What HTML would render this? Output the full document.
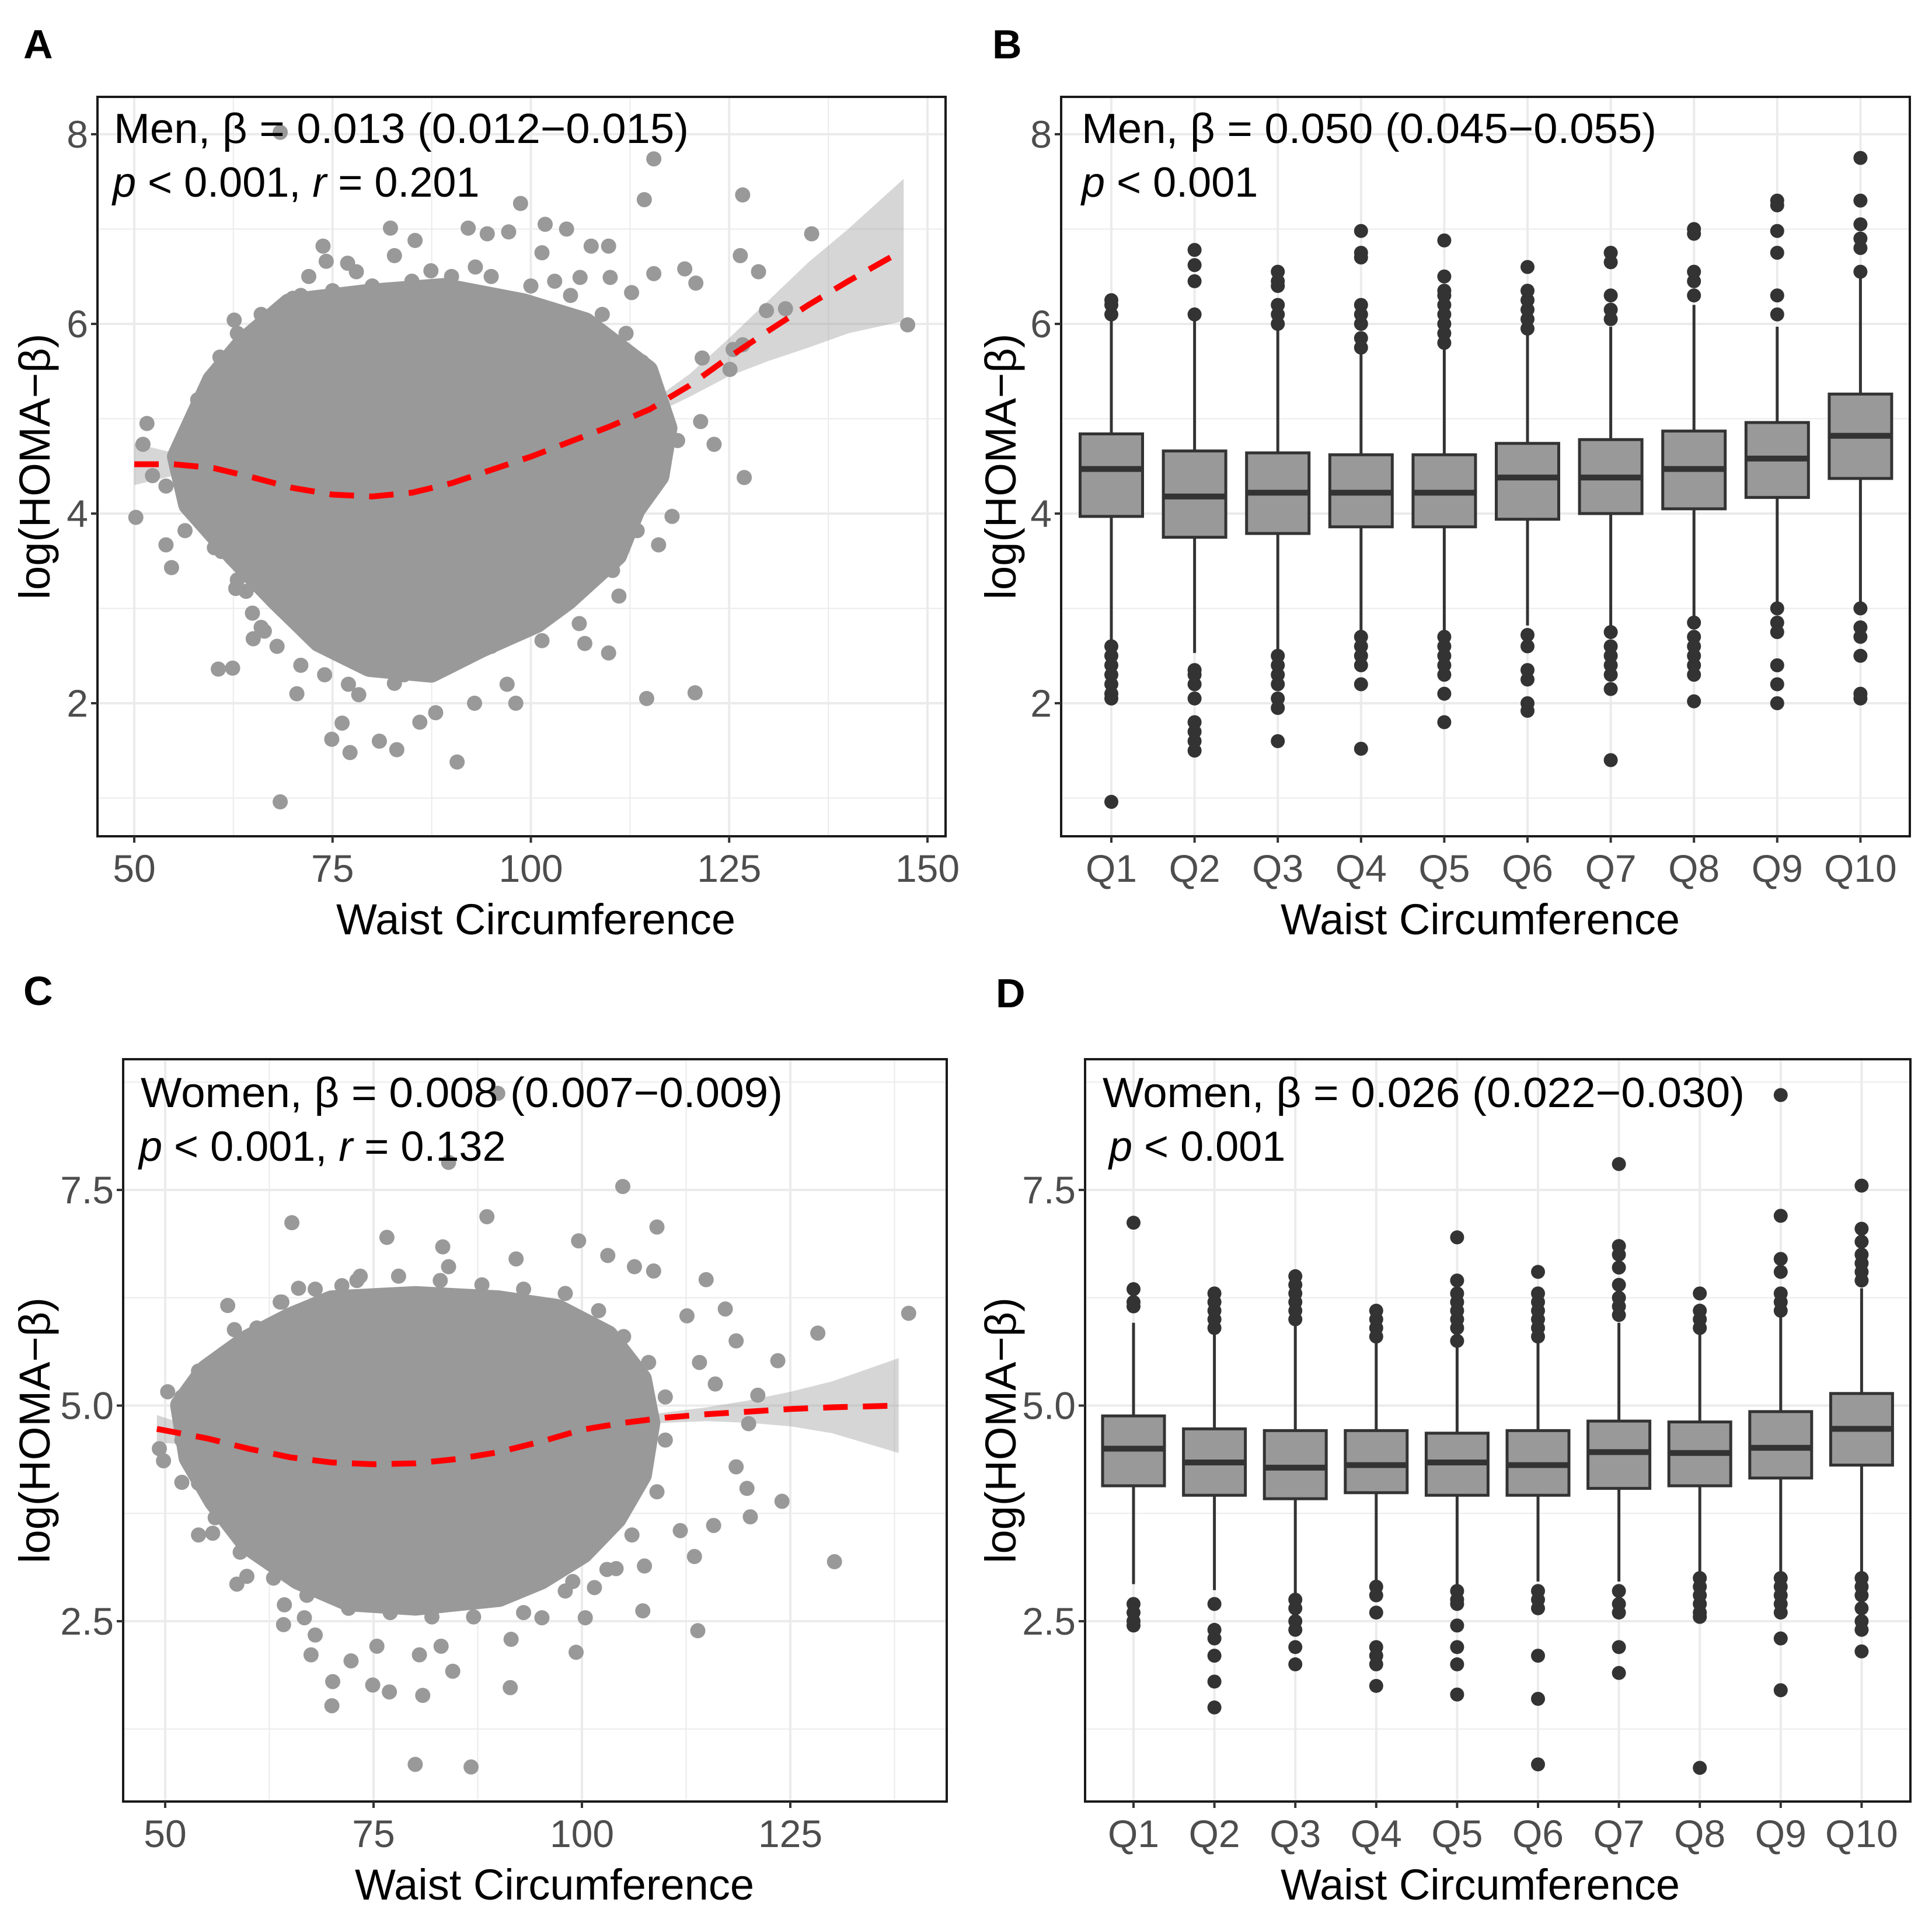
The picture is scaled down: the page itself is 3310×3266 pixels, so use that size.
<!DOCTYPE html>
<html><head><meta charset="utf-8"><style>
html,body{margin:0;padding:0;background:#fff}
svg{display:block}
text{font-family:"Liberation Sans",Arial,sans-serif}
</style></head><body>
<svg id="fig" width="3310" height="3266" viewBox="0 0 3310 3266" xmlns="http://www.w3.org/2000/svg"></svg>
<script>
// ---------- Panel A data (men scatter) ----------
const aCoreX=[55.6,60,64,69.6,79.7,89,99,106.8,114.6,117,116,113,110.7,104.5,100.6,93.6,87.4,79.7,73.4,68,62.6,57];
const aCoreY=[4.6,5.4,5.8,6.2,6.3,6.36,6.2,6.0,5.5,4.9,4.4,4.05,3.57,3.1,2.86,2.6,2.34,2.4,2.66,3.1,3.57,4.1];
const aPtX=[68.4,90.7,83.1,80.9,77.2,74.9,76.2,86.0,88.0,60.6,62.4,70.5,92.9,98.1,97.0,114.6,120.7,109.8,106.8,106.1,111.1,110.3,116.1,117.8,113.4,126.9,123.1,121.4,118.5,121.6,125.5,125.1,126.7,128.7,126.4,126.7,135.4,147.5,129.7,132.1,115.5,114.3,120.8,119.4,115.5,112.7,110,109.8,107.6,106.2,104.5,101.8,101.4,98.7,97.2,94.5,92.1,87.4,82.3,85.4,82.8,73.8,74.2,76.9,68.4,62.6,66.5,70,68.4,60.8,60.1,60.6,54,54.7,56.4,50.2,51.6,51.1,52.3,54,64.9,65,66.4,62.8,64.1,101.4,100,103,82.8,78.3,
58,57,59,61,63,66,68,71,74,77,84,90,95,99,103,107,110,112,113,115,114,112,109,105,100,95,90,85,80,75,71,66,63,61,72,78,93,103];
const aPtY=[0.96,1.38,1.51,1.6,1.48,1.62,1.79,1.8,1.9,2.36,2.37,2.1,2.0,2.0,2.2,2.05,2.11,2.53,2.63,2.84,3.13,3.4,3.67,3.97,3.82,4.38,4.73,4.97,4.77,5.64,5.73,5.52,5.78,6.55,6.72,7.36,6.95,5.99,6.14,6.16,7.74,7.31,6.43,6.58,6.53,6.33,6.49,6.82,6.82,6.49,7.0,7.05,6.75,7.27,6.97,6.95,7.01,6.56,7.01,6.88,6.72,6.82,6.66,6.64,8.02,6.04,6.05,6.27,5.88,5.65,3.64,3.8,3.67,3.43,3.82,3.96,4.95,4.73,4.4,4.29,2.95,2.68,2.76,3.21,3.18,2.66,2.92,3.08,2.21,2.09,
5.2,4.9,3.9,3.6,3.3,2.8,2.6,2.4,2.3,2.2,2.3,2.4,2.6,2.8,3.0,3.3,3.7,4.2,4.7,5.2,5.6,5.9,6.1,6.3,6.4,6.5,6.5,6.45,6.4,6.35,6.3,6.1,5.9,5.6,6.5,6.55,6.6,6.45];
const aFitX=[50,55,60,65,70,75,80,85,90,95,100,105,110,115,120,125,130,135,140,147];
const aFitY=[4.52,4.52,4.48,4.38,4.27,4.2,4.18,4.22,4.32,4.46,4.6,4.76,4.92,5.1,5.35,5.65,5.93,6.2,6.45,6.78];
const aFitSE=[0.22,0.12,0.06,0.04,0.03,0.03,0.03,0.03,0.03,0.03,0.03,0.04,0.05,0.07,0.12,0.2,0.32,0.45,0.55,0.75];
// ---------- Panel C data (women scatter) ----------
const cCoreX=[55,60,65,70,80,90,97,103,107,108,107,104,100,95,90,80,72,66,60,56,53,52];
const cCoreY=[5.4,5.75,6.0,6.2,6.25,6.2,6.1,5.8,5.3,4.8,4.2,3.7,3.3,3.0,2.8,2.7,2.75,3.0,3.4,3.9,4.4,5.0];
const cPtX=[70,70.1,74.9,76.9,80.9,80,86.7,91.4,99.3,84.5,80.5,83.1,75.4,72.3,67.5,64.2,68,113.9,107.3,130.3,124,120.2,115.8,111.8,113.5,104.1,101.5,98.9,107.5,119.8,118.5,120,121.1,123.5,128.3,139.2,117.2,114.9,112.6,118.5,116,114.1,109,104.9,108.6,103.1,99.6,106.3,92.1,88.6,84,83.3,76.6,65.2,89.9,84,73.4,71.2,66,63.8,57.5,58.3,50.3,49.3,49.8,52,54,55.7,58.6,59.8,64.3,66.7,91.5,100.4,95.2,
57,61,64,68,73,78,83,88,93,98,102,105,108,110,110,109,106,103,98,93,87,82,77,72,67,63,59,56,54,52,52,54];
const cPtY=[1.52,1.8,1.76,1.68,1.64,0.84,0.81,1.73,2.14,1.92,2.11,2.21,2.21,2.04,2.11,2.46,2.34,2.39,2.62,3.19,3.89,3.71,3.61,3.55,3.25,3.11,2.89,2.96,3.14,4.04,4.29,4.79,5.12,5.52,5.84,6.07,6.12,6.46,6.04,5.75,5.25,5.5,7.07,7.54,6.56,6.74,6.91,6.61,6.7,7.19,6.61,6.84,6.95,7.12,8.62,7.82,6.5,6.39,6.36,6.2,6.16,5.88,5.16,4.5,4.36,4.11,3.5,3.52,2.93,3.02,2.69,2.54,2.29,2.54,2.54,
5.6,5.9,6.2,6.35,6.45,6.5,6.45,6.4,6.35,6.3,6.1,5.8,5.5,5.1,4.6,4.0,3.5,3.1,2.85,2.6,2.55,2.55,2.6,2.65,2.8,3.0,3.3,3.7,4.1,4.6,5.1,5.4];
const cFitX=[49,55,60,65,70,75,80,85,90,95,100,105,110,115,120,125,130,138];
const cFitY=[4.73,4.62,4.5,4.4,4.34,4.32,4.33,4.38,4.46,4.58,4.72,4.8,4.86,4.9,4.93,4.96,4.98,5.0];
const cFitSE=[0.16,0.08,0.05,0.04,0.03,0.03,0.03,0.03,0.03,0.03,0.04,0.05,0.06,0.08,0.13,0.2,0.3,0.55];
// ---------- Panel B data (men boxplots) ----------
const bCats=["Q1","Q2","Q3","Q4","Q5","Q6","Q7","Q8","Q9","Q10"];
const bLow=[2.65,2.53,2.56,2.73,2.72,2.82,2.8,2.88,3.05,3.05];
const bQ1=[3.97,3.75,3.79,3.86,3.86,3.94,4.0,4.05,4.17,4.37];
const bMed=[4.47,4.18,4.22,4.22,4.22,4.38,4.38,4.47,4.58,4.82];
const bQ3=[4.84,4.66,4.64,4.62,4.62,4.74,4.78,4.87,4.96,5.26];
const bHigh=[6.05,6.04,5.97,5.71,5.75,5.9,5.97,6.2,5.97,6.5];
const bOut=[[6.1,6.2,6.25,2.6,2.5,2.4,2.3,2.2,2.1,2.05,0.96],[6.1,6.45,6.62,6.78,2.35,2.3,2.2,2.05,1.8,1.7,1.6,1.5],[6.0,6.1,6.2,6.4,6.45,6.55,2.5,2.4,2.3,2.2,2.05,1.95,1.6],[5.75,5.85,6.0,6.1,6.2,6.7,6.75,6.98,2.7,2.6,2.5,2.4,2.2,1.52],[5.8,5.9,6.0,6.1,6.2,6.3,6.35,6.5,6.88,2.7,2.6,2.5,2.4,2.3,2.1,1.8],[5.95,6.05,6.15,6.25,6.35,6.6,2.72,2.6,2.35,2.25,2.0,1.92],[6.05,6.15,6.3,6.65,6.75,2.75,2.6,2.5,2.4,2.3,2.15,1.4],[6.3,6.45,6.55,6.95,7.0,2.85,2.7,2.6,2.5,2.4,2.3,2.02],[6.1,6.3,6.75,6.98,7.25,7.3,3.0,2.85,2.75,2.4,2.2,2.0],[6.55,6.8,6.9,7.05,7.3,7.75,3.0,2.8,2.7,2.5,2.1,2.05]];
// ---------- Panel D data (women boxplots) ----------
const dCats=["Q1","Q2","Q3","Q4","Q5","Q6","Q7","Q8","Q9","Q10"];
const dLow=[2.93,2.86,2.82,2.93,2.93,2.96,2.96,3.07,3.07,3.07];
const dQ1=[4.07,3.96,3.92,3.99,3.96,3.96,4.04,4.07,4.16,4.31];
const dMed=[4.5,4.34,4.28,4.31,4.34,4.31,4.46,4.45,4.51,4.73];
const dQ3=[4.88,4.73,4.71,4.71,4.68,4.71,4.82,4.81,4.93,5.14];
const dHigh=[5.96,5.86,5.93,5.75,5.68,5.75,5.96,5.86,6.04,6.36];
const dOut=[[6.15,6.2,6.35,7.12,2.7,2.6,2.5,2.45],[5.9,6.0,6.1,6.2,6.3,2.7,2.4,2.3,2.1,1.8,1.5],[6.0,6.1,6.2,6.3,6.4,6.5,2.75,2.65,2.5,2.4,2.2,2.0],[5.8,5.9,6.0,6.1,2.9,2.8,2.6,2.2,2.1,2.0,1.75],[5.75,5.9,6.0,6.1,6.2,6.3,6.45,6.95,2.85,2.75,2.7,2.45,2.2,2.0,1.65],[5.8,5.9,6.0,6.1,6.2,6.3,6.55,2.85,2.75,2.65,2.1,1.6,0.84],[6.05,6.15,6.25,6.4,6.6,6.75,6.85,7.8,2.85,2.7,2.6,2.2,1.9],[5.9,6.0,6.1,6.3,3.0,2.9,2.8,2.7,2.6,2.55,0.8],[6.1,6.2,6.3,6.55,6.7,7.2,8.6,3.0,2.9,2.8,2.7,2.6,2.3,1.7],[6.45,6.55,6.65,6.75,6.9,7.05,7.55,3.0,2.9,2.8,2.65,2.5,2.4,2.15]];
// tick labels
const aXTicks=[50,75,100,125,150];const aYTicks=[2,4,6,8];
const cXTicks=[50,75,100,125];const cYTicks=["2.5","5.0","7.5"];

const NS="http://www.w3.org/2000/svg";
const svg=document.getElementById('fig');
function mk(tag,attrs,parent){const e=document.createElementNS(NS,tag);for(const k in attrs)e.setAttribute(k,attrs[k]);(parent||svg).appendChild(e);return e;}

// axis functions
const axA={x:v=>230+(v-50)*13.59,y:v=>230+(8-v)*162.5,f:{x0:167,x1:1620,y0:166,y1:1433},tx:918,ty:85};
const axB={x:i=>1904+i*142.6,y:v=>230+(8-v)*162.5,f:{x0:1818,x1:3272,y0:166,y1:1433},tx:2536,ty:1740};
const axC={x:v=>283+(v-50)*14.28,y:v=>2039+(7.5-v)*147.8,f:{x0:211,x1:1622,y0:1815,y1:3087},tx:950,ty:85};
const axD={x:i=>1942+i*138.6,y:v=>2039+(7.5-v)*147.8,f:{x0:1859,x1:3273,y0:1815,y1:3087},tx:2536,ty:1740};

function frameGrid(ax,name,xMaj,xMin,yMaj,yMin){
  const f=ax.f;
  const g=mk('g',{});
  
  
  const cp=mk('clipPath',{id:name+'-clip'});
  mk('rect',{x:f.x0,y:f.y0,width:f.x1-f.x0,height:f.y1-f.y0},cp);
  const gg=mk('g',{},g);
  
  
  yMin.forEach(v=>mk('line',{x1:f.x0,x2:f.x1,y1:ax.y(v),y2:ax.y(v),stroke:'#ebebeb','stroke-width':2},gg));
  xMin.forEach(v=>mk('line',{y1:f.y0,y2:f.y1,x1:ax.x(v),x2:ax.x(v),stroke:'#ebebeb','stroke-width':2},gg));
  yMaj.forEach(v=>mk('line',{x1:f.x0,x2:f.x1,y1:ax.y(v),y2:ax.y(v),stroke:'#ebebeb','stroke-width':4},gg));
  xMaj.forEach(v=>mk('line',{y1:f.y0,y2:f.y1,x1:ax.x(v),x2:ax.x(v),stroke:'#ebebeb','stroke-width':4},gg));
  const content=mk('g',{'clip-path':'url(#'+name+'-clip)'},g);
  
  
  return {g,content};
}
function finish(ax,name,g,xVals,xLabels,yVals,yLabels){
  const f=ax.f;
  const fr=mk('rect',{x:f.x0,y:f.y0,width:f.x1-f.x0,height:f.y1-f.y0,fill:'none',stroke:'#1a1a1a','stroke-width':4},g);
  
  
  const xa=mk('g',{},g);
  
  
  xVals.forEach((v,i)=>{
    const x=ax.x(v);
    mk('line',{x1:x,x2:x,y1:f.y1,y2:f.y1+11,stroke:'#333','stroke-width':4},xa);
    const t=mk('text',{x:x,y:f.y1+78,'text-anchor':'middle','font-size':66,fill:'#4d4d4d'},xa);
    t.textContent=xLabels[i];
    
    
  });
  const ya=mk('g',{},g);
  
  
  yVals.forEach((v,i)=>{
    const y=ax.y(v);
    mk('line',{x1:f.x0-11,x2:f.x0,y1:y,y2:y,stroke:'#333','stroke-width':4},ya);
    const t=mk('text',{x:f.x0-16,y:y+23,'text-anchor':'end','font-size':66,fill:'#4d4d4d'},ya);
    t.textContent=yLabels[i];
    
    
  });
  const xt=mk('text',{x:ax.tx,y:f.y1+168,'text-anchor':'middle','font-size':74,fill:'#000'},g);
  xt.textContent='Waist Circumference';
  
  
  const cy=(f.y0+f.y1)/2, cx=ax.ty;
  const yt=mk('text',{x:cx,y:cy,'text-anchor':'middle','font-size':74,fill:'#000',transform:`rotate(-90 ${cx} ${cy})`},g);
  yt.textContent='log(HOMA\u2212\u03b2)';
  
  
}
function annot(g,x,y1,l1,l1len,l2parts,x2){
  const t1=mk('text',{x:x,y:y1,'font-size':72,fill:'#000',textLength:l1len,lengthAdjust:'spacingAndGlyphs'},g);
  t1.textContent=l1;
  
  
  const t2=mk('text',{x:x2,y:y1+92,'font-size':72,fill:'#000'},g);
  
  
  l2parts.forEach(p=>{const s=mk('tspan',p[1]?{'font-style':'italic'}:{},t2);s.textContent=p[0];});
}
function scatterPanel(ax,name,coreX,coreY,ptX,ptY,fitX,fitY,fitSE,xt,yt,ytl,yMinor){
  const {g,content}=frameGrid(ax,name,xt,[62.5,87.5,112.5,137.5],yt,yMinor);
  const core=mk('polygon',{points:coreX.map((v,i)=>ax.x(v)+','+ax.y(coreY[i])).join(' '),fill:'#999','stroke':'#999','stroke-width':40,'stroke-linejoin':'round'},content);
  
  
  ptX.forEach((v,i)=>{
    const c=mk('circle',{cx:ax.x(v),cy:ax.y(ptY[i]),r:13,fill:'#999'},content);
    
    
  });
  const up=fitX.map((v,i)=>ax.x(v)+','+ax.y(fitY[i]+fitSE[i]));
  const lo=fitX.map((v,i)=>ax.x(v)+','+ax.y(fitY[i]-fitSE[i])).reverse();
  const band=mk('polygon',{points:up.concat(lo).join(' '),fill:'#999','fill-opacity':0.4},content);
  
  
  const line=mk('polyline',{points:fitX.map((v,i)=>ax.x(v)+','+ax.y(fitY[i])).join(' '),fill:'none',stroke:'#ff0000','stroke-width':10,'stroke-dasharray':'42 26'},content);
  
  
  finish(ax,name,g,xt,xt.map(String),yt,ytl);
  return g;
}
function boxPanel(ax,name,cats,low,q1,med,q3,high,outs,yt,ytl,yMinor,bw){
  const idx=cats.map((c,i)=>i);
  const {g,content}=frameGrid(ax,name,idx,[],yt,yMinor);
  cats.forEach((c,i)=>{
    const bg=mk('g',{},content);
    
    
    const x=ax.x(i);
    mk('line',{x1:x,x2:x,y1:ax.y(high[i]),y2:ax.y(q3[i]),stroke:'#333','stroke-width':5},bg);
    mk('line',{x1:x,x2:x,y1:ax.y(q1[i]),y2:ax.y(low[i]),stroke:'#333','stroke-width':5},bg);
    mk('rect',{x:x-bw/2,y:ax.y(q3[i]),width:bw,height:ax.y(q1[i])-ax.y(q3[i]),fill:'#999',stroke:'#333','stroke-width':5},bg);
    mk('line',{x1:x-bw/2,x2:x+bw/2,y1:ax.y(med[i]),y2:ax.y(med[i]),stroke:'#333','stroke-width':10},bg);
    outs[i].forEach(v=>{
      const o=mk('circle',{cx:x,cy:ax.y(v),r:12,fill:'#333'},bg);
      
      
    });
  });
  finish(ax,name,g,idx,cats,yt,ytl);
  return g;
}
const gA=scatterPanel(axA,'panel-a',aCoreX,aCoreY,aPtX,aPtY,aFitX,aFitY,aFitSE,aXTicks,aYTicks,aYTicks.map(String),[1,3,5,7]);
annot(gA,195,245,'Men, \u03b2 = 0.013 (0.012\u22120.015)',985,[['p',1],[' < 0.001, '],['r',1],[' = 0.201']],193);
const gB=boxPanel(axB,'panel-b',bCats,bLow,bQ1,bMed,bQ3,bHigh,bOut,aYTicks,aYTicks.map(String),[1,3,5,7],107);
annot(gB,1853,245,'Men, \u03b2 = 0.050 (0.045\u22120.055)',985,[['p',1],[' < 0.001']],1853);
const gC=scatterPanel(axC,'panel-c',cCoreX,cCoreY,cPtX,cPtY,cFitX,cFitY,cFitSE,cXTicks,cYTicks.map(Number),cYTicks,[1.25,3.75,6.25,8.75]);
annot(gC,241,1897,'Women, \u03b2 = 0.008 (0.007\u22120.009)',1100,[['p',1],[' < 0.001, '],['r',1],[' = 0.132']],238);
const gD=boxPanel(axD,'panel-d',dCats,dLow,dQ1,dMed,dQ3,dHigh,dOut,cYTicks.map(Number),cYTicks,[1.25,3.75,6.25,8.75],106);
annot(gD,1889,1897,'Women, \u03b2 = 0.026 (0.022\u22120.030)',1100,[['p',1],[' < 0.001']],1900);
[['A',40,100],['B',1700,100],['C',40,1722],['D',1706,1726]].forEach(p=>{
  const t=mk('text',{x:p[1],y:p[2],'font-size':70,'font-weight':'bold',fill:'#000'});
  t.textContent=p[0];
  
  
});
</script>
</body></html>
